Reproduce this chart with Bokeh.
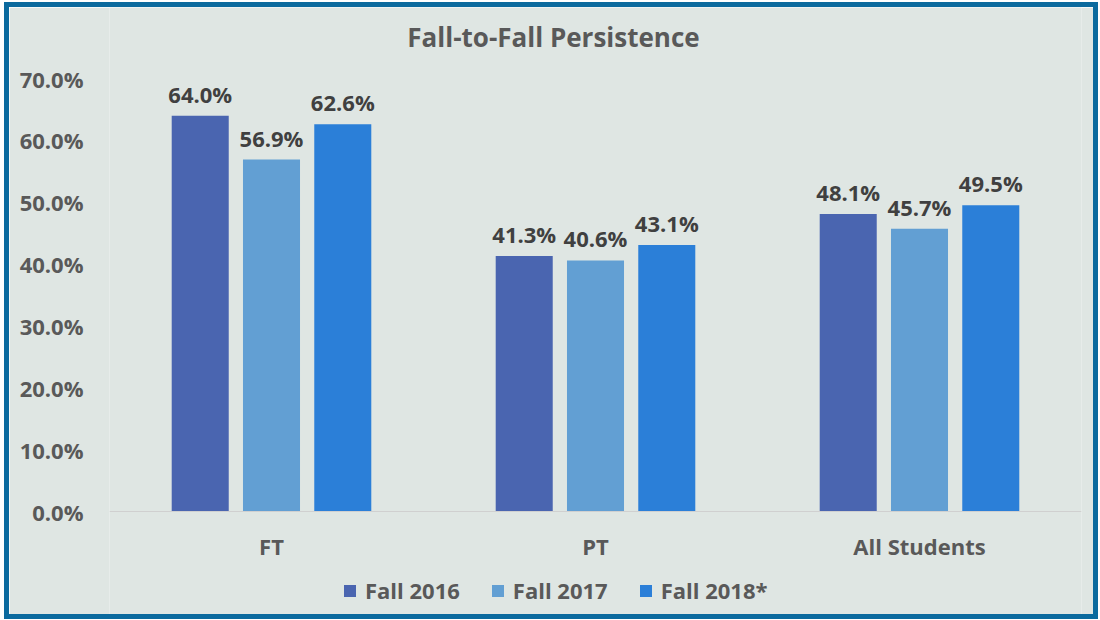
from bokeh.plotting import figure
from bokeh.models import (ColumnDataSource, FactorRange, Range1d, NumeralTickFormatter,
                          Legend, LegendItem, FixedTicker, Label)
from bokeh.transform import dodge
from bokeh.core.properties import value
from bokeh.embed import file_html
from bokeh.resources import INLINE

categories = ["FT", "PT", "All Students"]
series = ["Fall 2016", "Fall 2017", "Fall 2018*"]
fall_2016 = [0.640, 0.413, 0.481]
fall_2017 = [0.569, 0.406, 0.457]
fall_2018 = [0.626, 0.431, 0.495]
y_ticks = [0.0, 0.1, 0.2, 0.3, 0.4, 0.5, 0.6, 0.7]
title_text = "Fall-to-Fall Persistence"

colors = ["#4a65b0", "#629fd3", "#2b7fd8"]
offsets = [-0.22, 0.0, 0.22]
FONT = "Open Sans"
TXT = "#595959"
BG = "#dfe6e3"

values = [fall_2016, fall_2017, fall_2018]
data = {"cat": categories}
for i, v in enumerate(values):
    data[f"s{i}"] = v
    data[f"l{i}"] = [f"{x*100:.1f}%" for x in v]
source = ColumnDataSource(data)

# the frame spans the full height so that title and legend (inside the frame) are not clipped
p = figure(x_range=FactorRange(*categories), y_range=Range1d(-0.1826, 0.8148),
           width=1094, height=617, output_backend="svg", toolbar_location=None,
           min_border_left=100, min_border_right=22, min_border_top=0, min_border_bottom=0,
           background_fill_color=BG, border_fill_color=BG)
p.styles = {"border": "5px solid #0b6a9e", "margin-left": "4px", "margin-top": "2px"}
p.outline_line_color = None
p.grid.visible = False

renderers = []
for i in range(3):
    r = p.vbar(x=dodge("cat", offsets[i], range=p.x_range), top=f"s{i}", width=0.176,
               source=source, fill_color=colors[i], line_color=None)
    renderers.append(r)
    p.text(x=dodge("cat", offsets[i], range=p.x_range), y=f"s{i}", text=f"l{i}",
           source=source, text_align="center", text_baseline="bottom", y_offset=-7,
           text_font=value(FONT), text_font_style="bold", text_font_size="22px",
           text_color="#404040")

p.yaxis.ticker = FixedTicker(ticks=y_ticks)
p.yaxis.formatter = NumeralTickFormatter(format="0.0%")
for ax in (p.xaxis, p.yaxis):
    ax.major_tick_line_color = None
    ax.minor_tick_line_color = None
    ax.major_tick_out = 0
    ax.major_tick_in = 0
    ax.major_label_text_font = FONT
    ax.major_label_text_font_style = "bold"
    ax.major_label_text_font_size = "22px"
    ax.major_label_text_color = TXT
p.yaxis.axis_line_color = None
p.yaxis.major_label_standoff = 26
p.xaxis.axis_line_color = "#d0d0d0"
p.xaxis.major_label_standoff = 19
p.xaxis.fixed_location = 0

legend = Legend(items=[LegendItem(label=series[i], renderers=[renderers[i]]) for i in range(3)],
                orientation="horizontal", location=(233, 19),
                glyph_width=15, glyph_height=15, label_height=22, label_standoff=8,
                spacing=30, padding=0, margin=0,
                background_fill_alpha=0, border_line_color=None,
                label_text_font=FONT, label_text_font_style="bold",
                label_text_font_size="22px", label_text_color=TXT)
p.add_layout(legend)

title = Label(x=444, y=588, x_units="screen", y_units="screen", text=title_text,
              text_align="center", text_baseline="alphabetic", text_font=FONT,
              text_font_style="bold", text_font_size="26px", text_color=TXT)
p.add_layout(title)

open("out.html", "w").write(file_html(p, INLINE))
